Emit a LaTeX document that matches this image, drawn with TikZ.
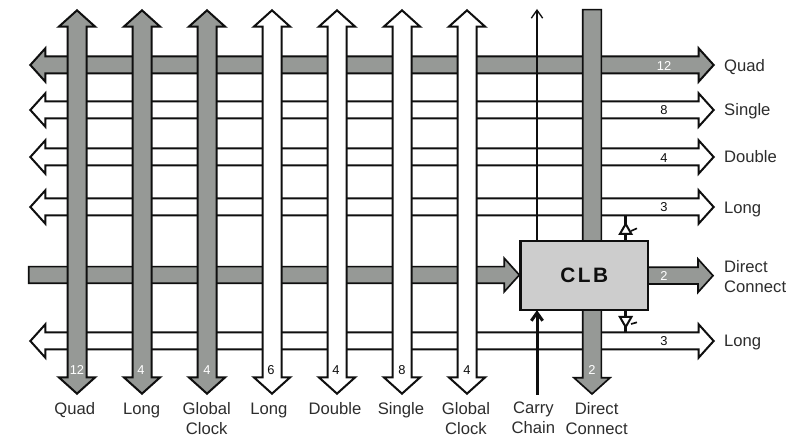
\documentclass[tikz,border=0pt]{standalone}
\usepackage{fontspec}
\usepackage{xcolor}
\setmainfont{Liberation Sans}
\usetikzlibrary{arrows.meta,shapes.arrows,shapes.geometric}
\definecolor{busGrey}{RGB}{150,153,150}
\definecolor{clbGrey}{RGB}{205,205,205}
\definecolor{inkBlack}{RGB}{15,15,15}
\definecolor{labelGrey}{RGB}{45,45,45}
\tikzset{
  hbus/.style={double arrow,draw=inkBlack,line width=0.06cm,inner xsep=0pt,inner ysep=0.225cm,outer sep=0pt,minimum height=20.5cm,double arrow head extend=0.25cm,double arrow tip angle=96},
  vbus/.style={double arrow,rotate=90,draw=inkBlack,line width=0.06cm,inner xsep=0pt,inner ysep=0.255cm,outer sep=0pt,minimum height=11.5cm,double arrow head extend=0.26cm,double arrow tip angle=96},
  arrowbus/.style={single arrow,draw=inkBlack,fill=busGrey,line width=0.05cm,inner xsep=0pt,inner ysep=0.225cm,outer sep=0pt,anchor=tail,single arrow head extend=0.25cm,single arrow tip angle=96},
  buslabel/.style={text=labelGrey,font=\fontsize{14.2}{17}\selectfont,inner sep=0pt},
  numlabel/.style={text=inkBlack,font=\fontsize{11}{12}\selectfont,inner sep=0pt},
  numwhite/.style={numlabel,text=white},
  tristate/.style={regular polygon,regular polygon sides=3,draw=inkBlack,fill=white,line width=0.06cm,inner sep=0pt,outer sep=0pt,minimum size=0.4cm}
}
\begin{document}
\begin{tikzpicture}[x=1cm,y=1cm]
\path[use as bounding box,fill=white] (0,0) rectangle (24.03,-13.29);

\node[hbus,fill=busGrey] (quadH) at (11.16,-1.95) {};
\node[hbus,fill=white] (singleH) at (11.16,-3.30) {};
\node[hbus,fill=white] (doubleH) at (11.16,-4.71) {};
\node[hbus,fill=white] (longTopH) at (11.16,-6.21) {};
\node[hbus,fill=white] (longLowH) at (11.16,-10.23) {};
\node[arrowbus,minimum height=14.72cm] (directH) at (0.86,-8.25) {};

\node[vbus,fill=busGrey] (quadV) at (2.31,-6.06) {};
\node[vbus,fill=busGrey] (longGreyV) at (4.26,-6.06) {};
\node[vbus,fill=busGrey] (clockGreyV) at (6.21,-6.06) {};
\node[vbus,fill=white] (longV) at (8.16,-6.06) {};
\node[vbus,fill=white] (doubleV) at (10.11,-6.06) {};
\node[vbus,fill=white] (singleV) at (12.06,-6.06) {};
\node[vbus,fill=white] (clockV) at (14.01,-6.06) {};
\node[arrowbus,rotate=-90,minimum height=11.53cm,inner ysep=0.255cm,single arrow head extend=0.26cm] (directV) at (17.76,-0.29) {};

\node[draw=inkBlack,fill=clbGrey,line width=0.08cm,inner sep=0pt,outer sep=0pt,minimum width=3.82cm,minimum height=2.07cm,text=inkBlack,font=\bfseries\fontsize{17.8}{20}\selectfont\addfontfeature{LetterSpace=12}] (clb) at (17.53,-8.27) {CLB};
\node[arrowbus,minimum height=1.95cm] (directOut) at (clb.east) {};

\coordinate (carryTop) at (16.11,-0.27);
\coordinate (carryLow) at (16.11,-11.85);
\draw[inkBlack,line width=0.04cm,-{Straight Barb[length=0.24cm,width=0.34cm]}] (carryTop |- clb.north) -- (carryTop);
\draw[inkBlack,line width=0.09cm,-{Straight Barb[length=0.24cm,width=0.34cm]}] (carryLow) -- (carryLow |- clb.south);

\coordinate (upPin) at (18.77,-6.45);
\coordinate (downPin) at (18.77,-9.99);
\coordinate (upTickIn) at (18.93,-6.93);
\coordinate (upTickOut) at (19.11,-6.85);
\coordinate (downTickIn) at (18.93,-9.72);
\coordinate (downTickOut) at (19.11,-9.67);
\draw[inkBlack,line width=0.08cm] (upPin) -- (upPin |- clb.north);
\draw[inkBlack,line width=0.08cm] (downPin) -- (downPin |- clb.south);
\node[tristate] (upTri) at (18.77,-6.92) {};
\node[tristate,rotate=180] (downTri) at (18.77,-9.61) {};
\draw[inkBlack,line width=0.05cm] (upTickIn) -- (upTickOut);
\draw[inkBlack,line width=0.05cm] (downTickIn) -- (downTickOut);

\node[numwhite] (numQuadH) at (19.92,-1.98) {12};
\node[numlabel] (numSingleH) at (19.92,-3.30) {8};
\node[numlabel] (numDoubleH) at (19.92,-4.74) {4};
\node[numlabel] (numLongTopH) at (19.92,-6.21) {3};
\node[numwhite] (numDirectOut) at (19.92,-8.28) {2};
\node[numlabel] (numLongLowH) at (19.92,-10.23) {3};
\node[numwhite] (numQuadV) at (2.31,-11.1) {12};
\node[numwhite] (numLongGreyV) at (4.23,-11.1) {4};
\node[numwhite] (numClockGreyV) at (6.21,-11.1) {4};
\node[numlabel] (numLongV) at (8.13,-11.1) {6};
\node[numlabel] (numDoubleV) at (10.08,-11.1) {4};
\node[numlabel] (numSingleV) at (12.06,-11.1) {8};
\node[numlabel] (numClockV) at (14.01,-11.1) {4};
\node[numwhite] (numDirectV) at (17.76,-11.1) {2};

\node[buslabel,anchor=base west] (labelQuadR) at (21.72,-2.16) {Quad};
\node[buslabel,anchor=base west] (labelSingleR) at (21.72,-3.47) {Single};
\node[buslabel,anchor=base west] (labelDoubleR) at (21.72,-4.89) {Double};
\node[buslabel,anchor=base west] (labelLongTopR) at (21.72,-6.40) {Long};
\node[buslabel,anchor=west,align=left] (labelDirectR) at (21.72,-8.31) {Direct\\Connect};
\node[buslabel,anchor=base west] (labelLongLowR) at (21.72,-10.40) {Long};

\node[buslabel,anchor=base] (labelQuadB) at (2.24,-12.43) {Quad};
\node[buslabel,anchor=base] (labelLongGreyB) at (4.25,-12.43) {Long};
\node[buslabel,anchor=north,align=center] (labelClockGreyB) at (6.2,-12.06) {Global\\Clock};
\node[buslabel,anchor=base] (labelLongB) at (8.07,-12.43) {Long};
\node[buslabel,anchor=base] (labelDoubleB) at (10.05,-12.43) {Double};
\node[buslabel,anchor=base] (labelSingleB) at (12.03,-12.43) {Single};
\node[buslabel,anchor=north,align=center] (labelClockB) at (13.98,-12.06) {Global\\Clock};
\node[buslabel,anchor=north,align=center] (labelCarryB) at (16.0,-12.06) {Carry\\Chain};
\node[buslabel,anchor=north,align=center] (labelDirectB) at (17.9,-12.06) {Direct\\Connect};
\end{tikzpicture}
\end{document}
